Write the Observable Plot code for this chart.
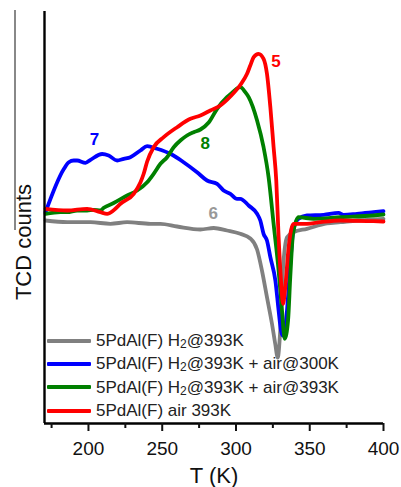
<!DOCTYPE html>
<html>
<head>
<meta charset="utf-8">
<script src="https://cdn.jsdelivr.net/npm/d3@7"></script>
<script src="https://cdn.jsdelivr.net/npm/@observablehq/plot@0.6"></script>
<style>
  html, body { margin: 0; padding: 0; background: #fff; }
  #wrap { position: relative; width: 401px; height: 487px; font-family: "Liberation Sans", Arial, sans-serif; }
  #stray { position: absolute; left: 14px; top: 10px; width: 1.5px; height: 220px; background: #888; }
  #ylabel { position: absolute; left: 24px; top: 242px; transform: translate(-50%, -50%) rotate(-90deg); font-size: 22px; color: #111; white-space: nowrap; }
  #legend { position: absolute; left: 47px; top: 329px; font-size: 17px; color: #222; line-height: 23.3px; }
  .row { display: flex; align-items: center; white-space: nowrap; }
  .sw { display: inline-block; width: 44px; height: 4px; margin-right: 5px; border-radius: 1px; }
  sub { font-size: 12px; vertical-align: -2px; line-height: 0; }
</style>
</head>
<body>
<div id="wrap">
  <div id="chart"></div>
  <div id="stray"></div>
  <div id="ylabel">TCD counts</div>
  <div id="legend"></div>
</div>
<script>
// Temperatures (K) and TCD signal (arbitrary units)
const T_gray = [170.9,185.6,201.4,214.9,226.2,242.0,248.8,260.1,275.9,284.9,293.9,302.9,309.7,314.3,317.6,321.0,324.4,326.6,328.3,330.0,331.8,334.6,339.0,348.1,361.6,370.7,382.0,400.0];
const Y_gray = [203,201.3,201.3,199.7,201.3,199.7,199.7,197,194,195.5,193,189.7,185,174,153,126.3,99.7,79.7,66,93,153,186.3,191.3,194.7,200,201.3,203,204.7];

const T_blue = [170.9,183.3,186.7,190.0,192.3,198.0,201.4,209.3,213.7,219.4,223.9,228.4,235.2,239.8,246.5,255.5,264.5,273.6,280.4,287.2,291.6,296.2,300.7,302.9,308.6,314.3,316.5,318.7,321.0,323.3,326.7,328.9,330.5,331.7,333.1,334.6,336.8,339.0,342.4,348.1,359.4,369.5,372.9,382.0,393.2,400.0];
const Y_blue = [211.3,254.5,261.3,263,263,260.7,263.7,269.5,268,263,264.7,266.3,273,277.3,274.7,269.7,261.3,251.3,243,239.7,233,229.7,224.7,224.7,218,209.7,203,189.7,183,166.3,143,113,93,88,93,113,159.7,194.7,204.7,208,208.7,210.7,208.7,209.7,211.3,212.3];

const T_green = [170.9,181.0,185.6,192.3,199.1,203.6,208.1,210.4,217.1,226.2,233.0,239.8,244.2,248.8,253.3,257.8,262.3,266.8,271.3,275.9,281.5,287.2,293.9,297.5,301.8,302.9,306.3,308.6,314.3,318.7,322.1,325.5,328.9,331.2,333.0,335.3,336.8,338.7,342.4,352.6,370.7,393.2,400.0];
const Y_green = [209.7,211.3,211.3,213,213,213.7,213,215.7,220.5,228,233,241.3,249.7,259.7,266.3,276.3,283,288,291.3,294,301,314.7,326.3,331,336,336.3,331.3,326.3,303,276.3,246.3,199.7,153,113,84.7,103,146.3,189.7,206.3,204.7,206.3,208,209];

const T_red = [170.9,185.6,199.1,208.1,212.7,216.9,221.7,230.7,235.2,237.5,239.8,244.2,251.0,260.1,269.1,275.9,282.6,289.4,296.2,302.9,307.5,309.7,312.0,315.3,318.7,321.0,323.3,325.5,327.3,328.9,330.5,331.9,333.4,335.7,339.0,348.1,357.1,370.7,393.2,400.0];
const Y_red = [214.7,213,214.7,211.3,209.7,213,219.7,229.7,241,250,262,276.3,286.3,296.3,304.7,308,313,318,327,338.5,349.7,358,366.3,369.7,364.7,349.7,316.3,276.3,243,186.3,143,119.7,136.3,176.3,199.7,199.7,201.3,203,202.3,202];

const seriesNames = [
  "5PdAl(F) H<sub>2</sub>@393K",
  "5PdAl(F) H<sub>2</sub>@393K + air@300K",
  "5PdAl(F) H<sub>2</sub>@393K + air@393K",
  "5PdAl(F) air 393K"
];
const seriesColors = ["#808080", "#0000ff", "#008000", "#ff0000"];

const curveLabels = ["6", "7", "8", "5"];
const labelT = [284.5, 204.1, 279.2, 327.1];
const labelY = [209.7, 283.7, 279.7, 362.3];
const labelColors = ["#999999", "#0000ff", "#008000", "#ff0000"];

const majorTicks = [200, 250, 300, 350, 400];
const minorTicks = [175, 225, 275, 325, 375];
const xDomain = [170.2, 400];
const yDomain = [0, 412];

const allT = [T_gray, T_blue, T_green, T_red];
const allY = [Y_gray, Y_blue, Y_green, Y_red];
const data = [];
allT.forEach((ts, s) => ts.forEach((t, i) => data.push({s, T: t, Y: allY[s][i]})));
const labels = curveLabels.map((l, i) => ({l, T: labelT[i], Y: labelY[i], c: labelColors[i]}));

const font = "Liberation Sans, Arial, sans-serif";
const chart = Plot.plot({
  width: 401,
  height: 487,
  marginLeft: 44,
  marginRight: 18,
  marginTop: 11,
  marginBottom: 64,
  style: {fontFamily: font, background: "#fff", color: "#111"},
  x: {domain: xDomain},
  y: {domain: yDomain, axis: null},
  marks: [
    Plot.line(data, {x: "T", y: "Y", z: "s", stroke: d => seriesColors[d.s], strokeWidth: 3.8, curve: "monotone-x", strokeLinejoin: "round"}),
    Plot.ruleY([yDomain[0]], {stroke: "#000", strokeWidth: 2.4}),
    Plot.ruleX([xDomain[0]], {stroke: "#000", strokeWidth: 2.4}),
    Plot.axisX(majorTicks, {tickSize: 8, tickPadding: 10, fontSize: 19, strokeWidth: 2, label: null, color: "#111"}),
    Plot.axisX(minorTicks, {tickSize: 5, tickFormat: () => "", strokeWidth: 2, label: null}),
    Plot.text(labels, {x: "T", y: "Y", text: "l", fill: "c", fontSize: 17, fontWeight: "bold"}),
    Plot.text(["T (K)"], {frameAnchor: "bottom", dy: 59, fontSize: 22, fill: "#111"})
  ]
});
document.getElementById("chart").appendChild(chart);

const legend = document.getElementById("legend");
seriesNames.forEach((n, i) => {
  const row = document.createElement("div");
  row.className = "row";
  row.innerHTML = `<span class="sw" style="background:${seriesColors[i]}"></span><span>${n}</span>`;
  legend.appendChild(row);
});
</script>
</body>
</html>
